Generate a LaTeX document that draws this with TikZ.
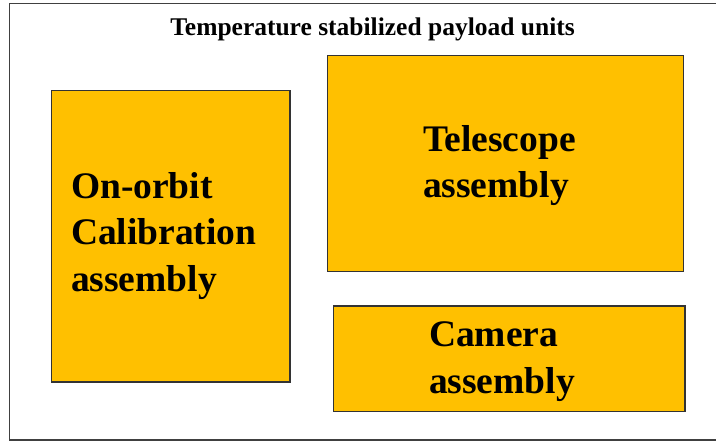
\documentclass[tikz,border=0pt]{standalone}
\usepackage{fontspec}
\setmainfont{Liberation Serif}
\definecolor{boxfill}{HTML}{FFC000}
\definecolor{boxline}{HTML}{333333}
\definecolor{frameline}{HTML}{404040}
\begin{document}
\begin{tikzpicture}[x=1pt,y=-1pt,
  unit/.style={draw=boxline,fill=boxfill,line width=1.1pt},
  label/.style={inner sep=0pt,outer sep=0pt,align=left,anchor=north west,
    font=\fontsize{37.5}{46.5}\selectfont\bfseries},
  titletext/.style={inner sep=0pt,anchor=base,font=\fontsize{25.5}{28}\selectfont\bfseries}]
\useasboundingbox (0,0) rectangle (716,441);
\fill[white] (0,0) rectangle (716,441);
\draw[frameline,line width=1.4pt] (716,3.5) -- (9.5,3.5) -- (9.5,440) -- (716,440);
\node[titletext] (title) at (372.5,36) {Temperature stabilized payload units};
\draw[unit] (51.5,90.5) rectangle (290,382);
\draw[unit] (327.5,55.5) rectangle (683.5,271.5);
\draw[unit] (333.5,306) rectangle (685,411.5);
\node[label] (cal) at (71,172) {On-orbit\\Calibration\\assembly};
\node[label] (tel) at (423,125) {Telescope\\assembly};
\node[label] (cam) at (429,322) {Camera\\assembly};
\end{tikzpicture}
\end{document}
